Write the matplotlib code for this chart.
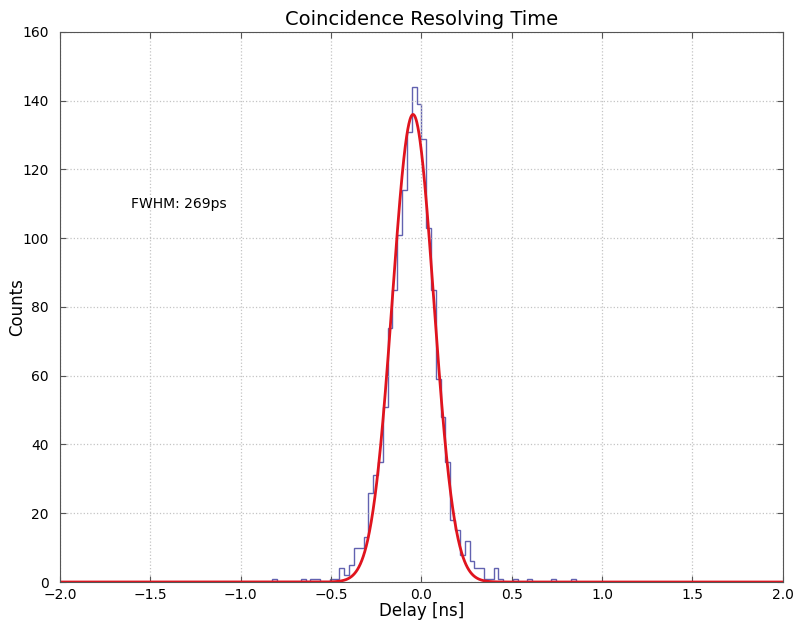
import numpy as np
import matplotlib
matplotlib.use("Agg")
import matplotlib.pyplot as plt

# ---- data ----
x_min, x_max, n_bins = -2.0, 2.0, 150
# non-empty bins: index relative to the bin starting at 0 ns
bin_offsets = [-31, -25, -23, -22, -19, -18, -17, -16, -15, -14, -13, -12, -11, -10,
               -9, -8, -7, -6, -5, -4, -3, -2, -1, 0, 1, 2, 3, 4, 5, 6, 7, 8, 9,
               10, 11, 12, 13, 14, 15, 16, 19, 22, 27, 31]
bin_counts = [1, 1, 1, 1, 1, 1, 4, 2, 5, 10, 10, 13, 26, 31,
              35, 51, 74, 85, 101, 114, 131, 144, 139, 129, 103, 85, 59, 48, 35, 18, 15, 8, 12,
              6, 4, 4, 1, 1, 4, 1, 1, 1, 1, 1]
fit_amplitude = 136.0
fit_mean = -0.046
fit_fwhm = 0.269
x_ticks = [-2.0, -1.5, -1.0, -0.5, 0.0, 0.5, 1.0, 1.5, 2.0]
y_ticks = [0, 20, 40, 60, 80, 100, 120, 140, 160]

edges = np.linspace(x_min, x_max, n_bins + 1)
counts = np.zeros(n_bins)
for off, c in zip(bin_offsets, bin_counts):
    counts[n_bins // 2 + off] = c

sigma = fit_fwhm / (2 * np.sqrt(2 * np.log(2)))
xf = np.linspace(x_min, x_max, 2000)
yf = fit_amplitude * np.exp(-0.5 * ((xf - fit_mean) / sigma) ** 2)

fig = plt.figure(figsize=(7.98, 6.22), dpi=100)
ax = fig.add_axes([0.075, 0.0643, 0.906, 0.8843])
ax.stairs(counts, edges, color="#6262b0", linewidth=1.0)
ax.plot(xf, yf, color="#e0141e", linewidth=2.0)

ax.set_xlim(x_min, x_max)
ax.set_ylim(0, 160)
ax.set_xticks(x_ticks)
ax.set_xticklabels([f"{v:.1f}".replace("-", "\u2212") for v in x_ticks])
ax.set_yticks(y_ticks)
ax.grid(True, linestyle=":", color="#c4c4c4", linewidth=0.9)
ax.tick_params(direction="in", top=True, right=True, labelsize=10, length=4, color="#555555")
ax.tick_params(axis="x", pad=4)
ax.tick_params(axis="y", pad=8)
for s in ax.spines.values():
    s.set_color("#555555")

ax.set_title("Coincidence Resolving Time", fontsize=14, pad=5)
ax.set_xlabel("Delay [ns]", fontsize=12)
ax.set_ylabel("Counts", fontsize=12)
ax.yaxis.set_label_coords(-0.046, 0.5)
ax.xaxis.set_label_coords(0.5, -0.036)
ax.text(-1.605, 110, "FWHM: 269ps", fontsize=10, va="center", ha="left")

fig.savefig("out.png", dpi=100)
